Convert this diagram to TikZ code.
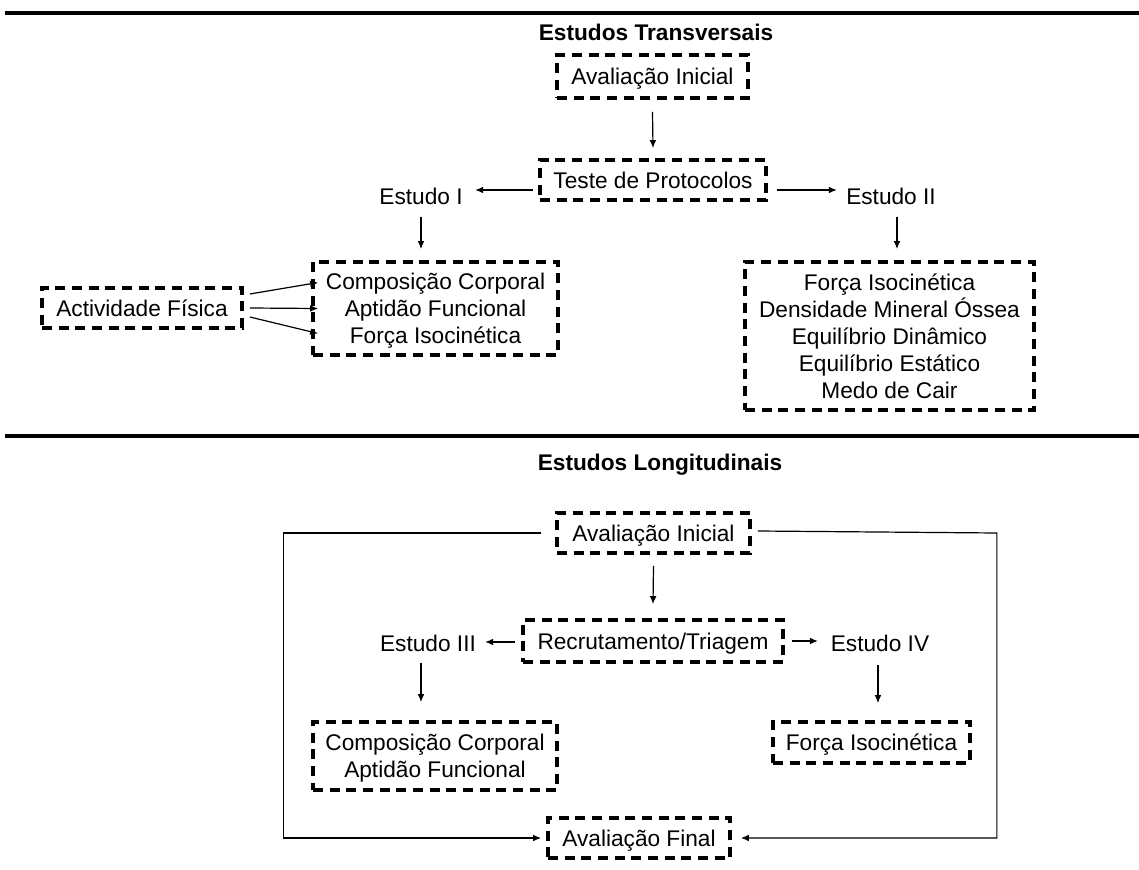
\documentclass[tikz,border=0pt]{standalone}
\usepackage{fontspec}
\setmainfont{Liberation Sans}
\usetikzlibrary{arrows.meta,calc}
\begin{document}
\begin{tikzpicture}[x=0.75pt,y=-0.75pt,
  box/.style={draw,line width=2.8pt,dash pattern=on 7.5pt off 5pt,inner sep=0pt,text depth=0pt,align=center,font=\fontsize{17}{20.25}\selectfont},
  lbl/.style={inner sep=0pt,font=\fontsize{17}{20.25}\selectfont},
  ttl/.style={inner sep=0pt,font=\fontsize{17}{20.25}\selectfont\bfseries},
  conn/.style={line width=0.9pt,-{Latex[length=6pt,width=5pt]}},
  rulestyle/.style={line width=2.5pt}]
\useasboundingbox (0,0) rectangle (1139,870);

% rules
\coordinate (r1a) at (5,13);
\coordinate (r1b) at (1139,13);
\coordinate (r2a) at (5,436);
\coordinate (r2b) at (1139,436);
\draw[rulestyle] (r1a) -- (r1b);
\draw[rulestyle] (r2a) -- (r2b);

% ---------- Estudos Transversais ----------
\node[ttl] (t1) at (656,32) {Estudos Transversais};
\node[box,minimum width=143.25pt,minimum height=32.25pt] (av1) at (652.5,76.5) {Avaliação Inicial};
\node[box,minimum width=169.5pt,minimum height=30pt] (tp) at (653,180) {Teste de Protocolos};
\node[lbl] (e1) at (421,196) {Estudo I};
\node[lbl] (e2) at (891,196) {Estudo II};
\node[box,minimum width=183.75pt,minimum height=69.75pt] (b1) at (435.5,308.5) {Composição Corporal\\Aptidão Funcional\\Força Isocinética};
\node[box,minimum width=150pt,minimum height=30pt] (af) at (142,308) {Actividade Física};
\node[box,minimum width=216.75pt,minimum height=111pt] (b2) at (889.5,336) {Força Isocinética\\Densidade Mineral Óssea\\Equilíbrio Dinâmico\\Equilíbrio Estático\\Medo de Cair};

\draw[conn] ($(av1.south)+(0,12)$) -- ($(tp.north)+(0,-10)$);
\draw[conn] ($(tp.west)+(-5,10)$) -- ($(tp.west)+(-63,10)$);
\draw[conn] ($(tp.east)+(9,10)$) -- ($(tp.east)+(69,10)$);
\draw[conn] ($(e1.center)+(0,21)$) -- ($(e1.center |- b1.north)+(0,-11)$);
\draw[conn] ($(e2.center)+(6,21)$) -- ($(e2.center |- b2.north)+(6,-11)$);
\draw[conn] ($(af.east)+(6,-14)$) -- ($(b1.west)+(7,-26)$);
\draw[conn] ($(af.east)+(6,0)$) -- ($(b1.west)+(7,0)$);
\draw[conn] ($(af.east)+(6,9)$) -- ($(b1.west)+(7,25)$);

% ---------- Estudos Longitudinais ----------
\node[ttl] (t2) at (660,465) {Estudos Longitudinais};
\node[box,minimum width=144.75pt,minimum height=30pt] (av2) at (653.5,533) {Avaliação Inicial};
\node[box,minimum width=195pt,minimum height=31.5pt] (rt) at (653,641) {Recrutamento/Triagem};
\node[lbl] (e3) at (428,643) {Estudo III};
\node[lbl] (e4) at (880,643) {Estudo IV};
\node[box,minimum width=183pt,minimum height=51pt] (b3) at (435,756) {Composição Corporal\\Aptidão Funcional};
\node[box,minimum width=147.75pt,minimum height=30.75pt] (fi) at (871.5,742.5) {Força Isocinética};
\node[box,minimum width=136.5pt,minimum height=30pt] (avf) at (639,838) {Avaliação Final};

\draw[conn] ($(av2.south)+(0,11)$) -- ($(rt.north)+(0,-14)$);
\draw[conn] ($(rt.west)+(-6,1)$) -- ($(rt.west)+(-36,1)$);
\draw[conn] ($(rt.east)+(7,0)$) -- ($(rt.east)+(33,0)$);
\draw[conn] ($(e3.center)+(-7,20)$) -- ($(e3.center |- b3.north)+(-7,-18)$);
\draw[conn] ($(e4.center)+(-2,22)$) -- ($(e4.center |- fi.north)+(-2,-17)$);
\draw[conn] ($(av2.west)+(-14,0)$) -| ($(avf.west)+(-263,0)$) -- ($(avf.west)+(-5,0)$);
\draw[conn] ($(av2.east)+(6,-2)$) -- ($(av2.east)+(245,0)$) -- ($(avf.east)+(265,0)$) -- ($(avf.east)+(9,0)$);
\end{tikzpicture}
\end{document}
